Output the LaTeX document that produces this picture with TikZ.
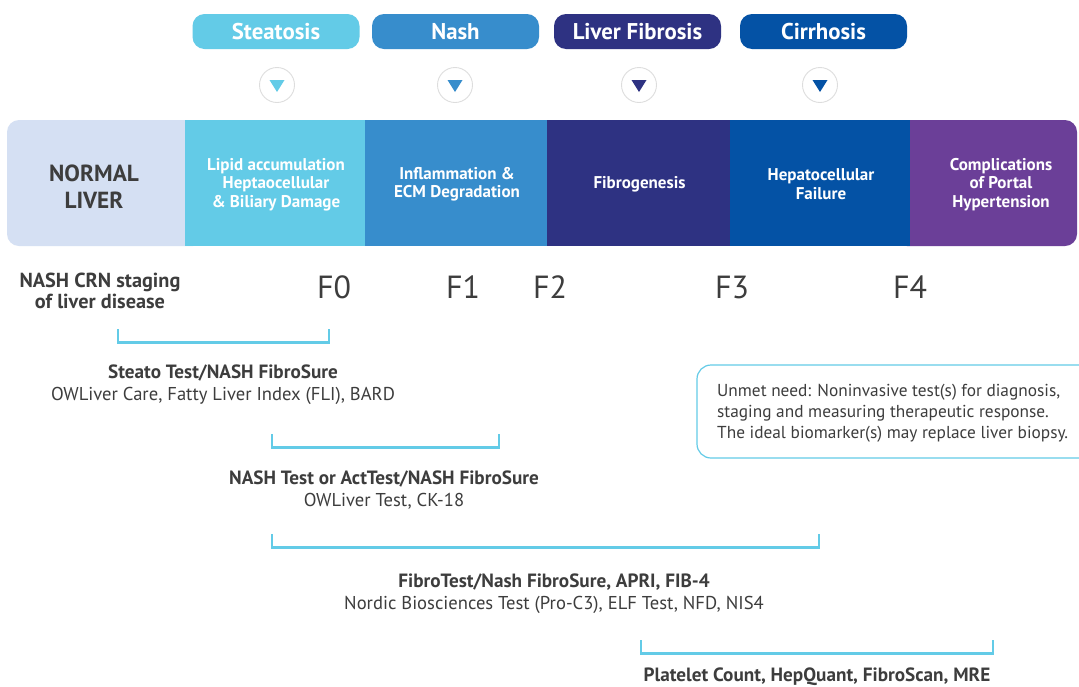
\documentclass[tikz,border=0pt]{standalone}
\usepackage{fontspec}
\setmainfont{PT Sans}
\usetikzlibrary{calc}
\definecolor{normalc}{HTML}{D5E0F3}
\definecolor{steac}{HTML}{63CBE7}
\definecolor{nashc}{HTML}{378DCC}
\definecolor{fibc}{HTML}{2E3282}
\definecolor{cirrc}{HTML}{0452A5}
\definecolor{compc}{HTML}{6B3F98}
\definecolor{textc}{HTML}{3D3D3D}
\definecolor{ringc}{HTML}{DDDDDD}
\newcommand{\bl}[1]{{\bfseries\fontsize{19.2}{22}\selectfont #1}}
\tikzset{
  pill/.style={rounded corners=12pt, minimum width=167pt, minimum height=35pt, inner sep=0pt, text=white, font=\bfseries\fontsize{22.8}{24}\selectfont},
  ring/.style={circle, draw=ringc, line width=0.9pt, minimum size=35pt, inner sep=0pt, fill=white},
  seg/.style={rectangle, minimum height=126pt, inner sep=0pt, text=white, align=center, font=\bfseries\fontsize{17}{18.5}\selectfont},
  segtext/.style={inner sep=0pt, text=white, align=center, font=\bfseries\fontsize{17}{18.5}\selectfont},
  flab/.style={text=textc, font=\fontsize{32}{34}\selectfont, inner sep=0pt},
  brk/.style={draw=steac, line width=2.6pt},
  testb/.style={text=textc, align=center, inner sep=0pt, font=\fontsize{18.6}{22}\selectfont},
}
\begin{document}
\begin{tikzpicture}[x=1pt,y=-1pt]
\useasboundingbox[fill=white] (0,0) rectangle (1079,686);
% pills
\node[pill, fill=steac] (p1) at (276,31.5) {Steatosis};
\node[pill, fill=nashc] (p2) at (455.5,31.5) {Nash};
\node[pill, fill=fibc] (p3) at (637.5,31.5) {Liver Fibrosis};
\node[pill, fill=cirrc] (p4) at (823.5,31.5) {Cirrhosis};
% rings with triangles
\foreach \n/\x/\c in {r1/277/steac, r2/455/nashc, r3/639/fibc, r4/820/cirrc}{
  \node[ring] (\n) at (\x,85) {};
  \fill[\c] (\n.center) ++(-7.5,-5) -- ++(15,0) -- ++(-7.5,12) -- cycle;
}
% band
\fill[normalc, rounded corners=12pt] (7,120) rectangle (205,246);
\fill[compc, rounded corners=12pt] (895,120) rectangle (1077,246);
\node[seg, fill=steac, minimum width=180pt] (s1) at (275,183) {};
\node[seg, fill=nashc, minimum width=182pt] (s2) at (456,183) {};
\node[seg, fill=fibc, minimum width=183pt] (s3) at (638.5,183) {};
\node[seg, fill=cirrc, minimum width=180pt] (s4) at (820,183) {};
\node[segtext] (l1) at (276,184.5) {Lipid accumulation\\Heptaocellular\\\& Biliary Damage};
\node[segtext] (l2) at (457,184) {Inflammation \&\\ECM Degradation};
\node[segtext] (l3) at (639.5,184) {Fibrogenesis};
\node[segtext] (l4) at (821,184) {Hepatocellular\\Failure};
\node[segtext] (l5) at (1001,184.5) {Complications\\of Portal\\Hypertension};
\node[text=textc, align=center, inner sep=0pt, font=\bfseries\fontsize{23.3}{27}\selectfont] (s0) at (94,187) {NORMAL\\LIVER};
% staging
\node[text=textc, align=center, inner sep=0pt, font=\bfseries\fontsize{20.3}{21}\selectfont] (crn) at (100,291) {NASH CRN staging\\of liver disease};
\node[flab] (f0) at (334,287.5) {F0};
\node[flab] (f1) at (463,287.5) {F1};
\node[flab] (f2) at (550,287.5) {F2};
\node[flab] (f3) at (732,287.5) {F3};
\node[flab] (f4) at (910,287.5) {F4};
% brackets
\draw[brk] (118,329) -- (118,342.5) -- (329,342.5) -- (329,329);
\draw[brk] (272,434) -- (272,447.5) -- (499,447.5) -- (499,434);
\draw[brk] (272,534) -- (272,547.5) -- (819,547.5) -- (819,534);
\draw[brk] (641,640) -- (641,653.5) -- (993,653.5) -- (993,640);
% test texts
\node[testb] (t1) at (223,384.5) {\bl{Steato Test/NASH FibroSure}\\OWLiver Care, Fatty Liver Index (FLI), BARD};
\node[testb] (t2) at (384,490) {\bl{NASH Test or ActTest/NASH FibroSure}\\OWLiver Test, CK-18};
\node[testb] (t3) at (554,593.5) {\bl{FibroTest/Nash FibroSure, APRI, FIB-4}\\Nordic Biosciences Test (Pro-C3), ELF Test, NFD, NIS4};
\node[testb] (t4) at (817,677) {\bl{Platelet Count, HepQuant, FibroScan, MRE}};
% callout
\draw[draw=steac, line width=1.2pt, rounded corners=14pt] (697,365) rectangle (1100,458);
\node[anchor=west, text=textc, align=left, inner sep=0pt, font=\fontsize{17.3}{21}\selectfont] (un) at (717,413.5) {Unmet need: Noninvasive test(s) for diagnosis,\\staging and measuring therapeutic response.\\The ideal biomarker(s) may replace liver biopsy.};
\end{tikzpicture}
\end{document}
